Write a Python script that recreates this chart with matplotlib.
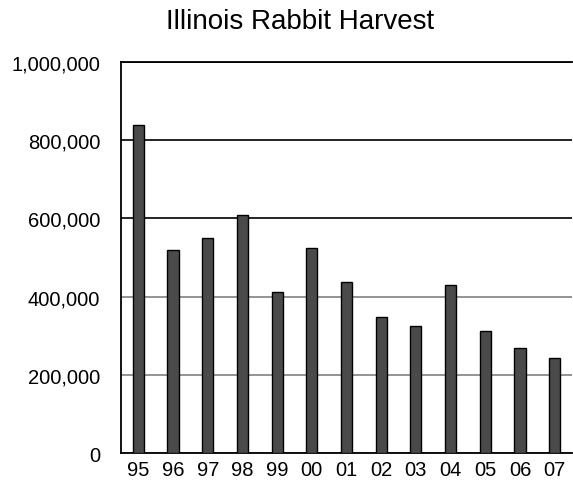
import matplotlib
matplotlib.use('Agg')
import matplotlib.pyplot as plt
import numpy as np

# Illinois rabbit harvest by season
years = ['95', '96', '97', '98', '99', '00', '01', '02', '03', '04', '05', '06', '07']
harvest = [838000, 519000, 549000, 608000, 411000, 525000, 438000,
           349000, 324000, 429000, 311000, 268000, 244000]
yticks = [0, 200000, 400000, 600000, 800000, 1000000]

plt.rcParams['font.family'] = ['Liberation Sans', 'DejaVu Sans']

fig = plt.figure(figsize=(5.73, 4.81), dpi=100)
ax = fig.add_axes([121 / 573, 1 - 454 / 481, 451 / 573, 391 / 481])

x = np.arange(len(years))
ax.bar(x, harvest, width=0.32, color='#4a4a4a', edgecolor='black', linewidth=1, zorder=3)

ax.set_xlim(-0.5, len(years) - 0.5)
ax.set_ylim(0, 1000000)
ax.set_xticks(x)
ax.set_xticklabels(years)
ax.set_yticks(yticks)
ax.set_yticklabels([f'{v:,}' for v in yticks])
ax.tick_params(axis='y', length=0, pad=15, labelsize=14.5)
ax.tick_params(axis='x', length=0, pad=5, labelsize=14.5)

# horizontal gridlines: lower ones render grey, upper ones black
ax.grid(axis='y', linewidth=1.2, zorder=1)
for val, line in zip(yticks, ax.get_ygridlines()):
    line.set_color('#808080' if val < 500000 else 'black')

for side in ['left', 'bottom', 'top']:
    ax.spines[side].set_linewidth(1.3)
    ax.spines[side].set_color('black')
ax.spines['right'].set_visible(False)

fig.text(0.523, 1 - 22 / 481, 'Illinois Rabbit Harvest', ha='center', va='center', fontsize=20)

fig.savefig('out.png', dpi=100)
